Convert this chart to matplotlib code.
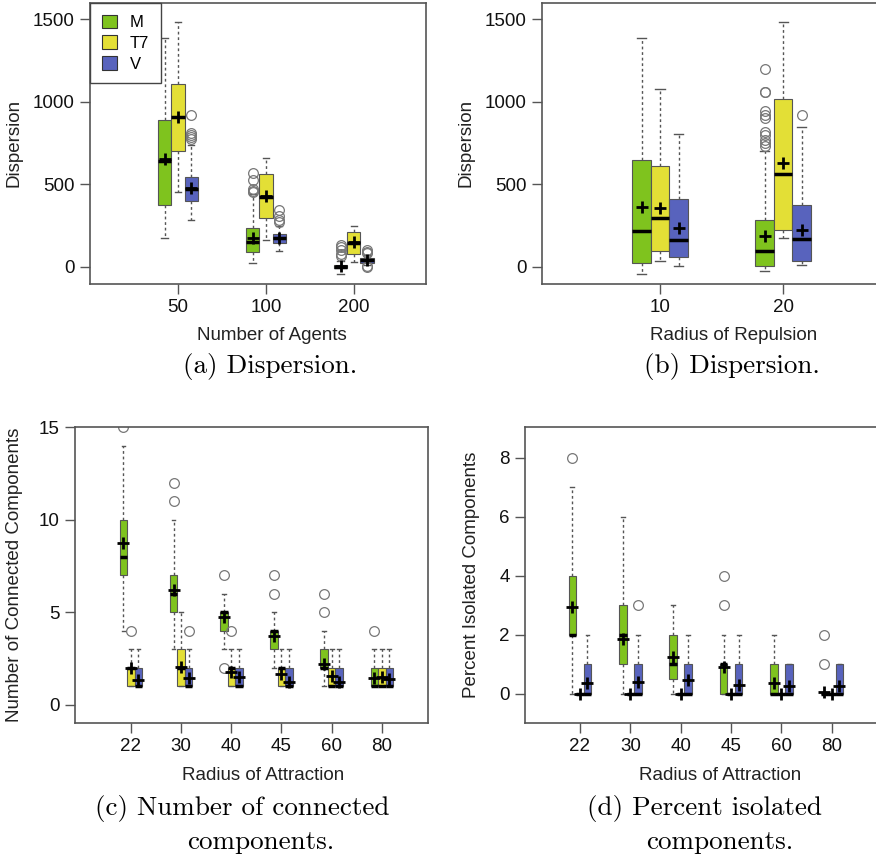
import matplotlib
matplotlib.use("Agg")
import matplotlib.pyplot as plt
from matplotlib.patches import Patch
import numpy as np

plt.rcParams['font.family'] = ['Liberation Sans', 'DejaVu Sans']

# ---------------------- data ----------------------
series = ['M', 'T7', 'V']
colors = ['#7FC31E', '#E3DF36', '#5863BD']

# panel (a): dispersion vs number of agents  (whislo, q1, med, q3, whishi)
a_groups = ['50', '100', '200']
a_M = [(173, 377, 639, 891, 1385), (24, 89, 149, 234, 440), (-40, -5, 0, 12, 34)]
a_T7 = [(454, 700, 911, 1107, 1482), (165, 296, 421, 562, 663), (30, 79, 145, 212, 250)]
a_V = [(286, 397, 472, 548, 736), (95, 145, 173, 200, 246), (14, 24, 40, 54, 75)]
a_M_mean = [653, 173, 4]
a_T7_mean = [907, 427, 149]
a_V_mean = [478, 173, 40]
a_M_fliers = [[], [569, 528, 472, 462, 455], [135, 120, 100, 80, 65]]
a_T7_fliers = [[], [], []]
a_V_fliers = [[921, 812, 800, 790, 778], [347, 310, 286, 270], [100, 92, 85, 5, 0]]

# panel (b): dispersion vs radius of repulsion
b_groups = ['10', '20']
b_M = [(-42, 24, 216, 649, 1385), (-26, 4, 95, 286, 700)]
b_T7 = [(34, 95, 296, 609, 1079), (175, 226, 562, 1018, 1482)]
b_V = [(4, 58, 165, 413, 806), (10, 38, 171, 377, 845)]
b_M_mean = [363, 190]
b_T7_mean = [357, 629]
b_V_mean = [236, 226]
b_M_fliers = [[], [1200, 1062, 1058, 946, 921, 901, 820, 800, 770, 750, 730]]
b_T7_fliers = [[], []]
b_V_fliers = [[], [921]]

# panel (c): number of connected components vs radius of attraction
c_groups = ['22', '30', '40', '45', '60', '80']
c_M = [(4, 7, 8, 10, 14), (3, 5, 6, 7, 10), (3, 4, 5, 5, 6),
       (2, 3, 4, 4, 5), (1, 2, 2, 3, 4), (1, 1, 1, 2, 3)]
c_T7 = [(1, 1, 2, 2, 3), (1, 1, 2, 3, 5), (1, 1, 2, 2, 3),
        (1, 1, 2, 2, 3), (1, 1, 1, 2, 3), (1, 1, 1, 2, 3)]
c_V = [(1, 1, 1, 2, 3), (1, 1, 1, 2, 3), (1, 1, 1, 2, 3),
       (1, 1, 1, 2, 3), (1, 1, 1, 2, 3), (1, 1, 1, 2, 3)]
c_M_mean = [8.73, 6.2, 4.76, 3.73, 2.2, 1.42]
c_T7_mean = [2.0, 2.05, 1.78, 1.64, 1.55, 1.5]
c_V_mean = [1.33, 1.42, 1.5, 1.24, 1.24, 1.37]
c_M_fliers = [[15], [12, 11], [7, 2], [7, 6], [6, 5], [4]]
c_T7_fliers = [[4], [], [4], [], [], []]
c_V_fliers = [[], [4], [], [], [], []]

# panel (d): percent isolated components vs radius of attraction
d_groups = ['22', '30', '40', '45', '60', '80']
d_M = [(0, 2, 2, 4, 7), (0, 1, 2, 3, 6), (0, 0.5, 1, 2, 3),
       (0, 0, 1, 1, 2), (0, 0, 0, 1, 2), (0, 0, 0, 0, 0)]
d_T7 = [(0, 0, 0, 0, 0)] * 6
d_V = [(0, 0, 0, 1, 2), (0, 0, 0, 1, 2), (0, 0, 0, 1, 2),
       (0, 0, 0, 1, 2), (0, 0, 0, 1, 1), (0, 0, 0, 1, 1)]
d_M_mean = [2.95, 1.84, 1.25, 0.91, 0.35, 0.07]
d_T7_mean = [0, 0, 0, 0, 0, 0]
d_V_mean = [0.35, 0.4, 0.48, 0.3, 0.26, 0.26]
d_M_fliers = [[8], [], [], [4, 3], [], [2, 1]]
d_T7_fliers = [[], [], [], [], [], []]
d_V_fliers = [[], [3], [], [], [], []]

W, H = 876, 859
fig = plt.figure(figsize=(W / 100, H / 100), dpi=100)


def px_axes(left, top, right, bottom):
    """ axes rectangle from pixel edges """
    return fig.add_axes([left / W, 1 - bottom / H, (right - left) / W, (bottom - top) / H])


def draw_panel(ax, five, means, fliers, groups, xlim, ylim, yticks):
    offsets = [-0.15, 0.0, 0.15]
    n = len(groups)
    for k in range(3):
        stats = []
        for g in range(n):
            lo, q1, med, q3, hi = five[k][g]
            stats.append(dict(whislo=lo, q1=q1, med=med, q3=q3, whishi=hi,
                              mean=means[k][g], fliers=fliers[k][g]))
        ax.bxp(stats, positions=np.arange(1, n + 1) + offsets[k], widths=0.15,
               capwidths=0.075, patch_artist=True, showmeans=True,
               boxprops=dict(facecolor=colors[k], edgecolor='#555555', linewidth=0.8),
               whiskerprops=dict(color='#555555', linewidth=1.0, linestyle=(0, (2, 2))),
               capprops=dict(color='#555555', linewidth=1.0),
               medianprops=dict(color='black', linewidth=2.5),
               meanprops=dict(marker='+', markersize=8, markeredgewidth=2.0,
                              markeredgecolor='black'),
               flierprops=dict(marker='o', markerfacecolor='none', markeredgecolor='#777777',
                               markersize=7, markeredgewidth=0.9))
    ax.set_xlim(*xlim)
    ax.set_ylim(*ylim)
    ax.set_xticks(np.arange(1, n + 1))
    ax.set_xticklabels(groups)
    ax.set_yticks(yticks)
    ax.tick_params(direction='out', length=7, width=1.0, color='#555555',
                   labelsize=13.5, labelcolor='#111111', pad=4)
    for s in ax.spines.values():
        s.set_color('#555555')
        s.set_linewidth(1.2)


# (a)
ax_a = px_axes(90, 3, 426, 284)
draw_panel(ax_a, [a_M, a_T7, a_V], [a_M_mean, a_T7_mean, a_V_mean],
           [a_M_fliers, a_T7_fliers, a_V_fliers], a_groups,
           (0.0, 3.82), (-103, 1599), [0, 500, 1000, 1500])
handles = [Patch(facecolor=c, edgecolor='#333333', linewidth=0.8) for c in colors]
leg = ax_a.legend(handles, series, loc='upper left', borderaxespad=0, fontsize=12,
                  handlelength=0.9, handleheight=0.9, fancybox=False,
                  framealpha=1, borderpad=0.7, labelspacing=0.3)
leg.get_frame().set_edgecolor('#444444')
leg.get_frame().set_linewidth(1.0)

# (b)
ax_b = px_axes(542, 3, 926, 284)
draw_panel(ax_b, [b_M, b_T7, b_V], [b_M_mean, b_T7_mean, b_V_mean],
           [b_M_fliers, b_T7_fliers, b_V_fliers], b_groups,
           (0.041, 3.16), (-103, 1599), [0, 500, 1000, 1500])

# (c)
ax_c = px_axes(75, 427, 428, 723)
draw_panel(ax_c, [c_M, c_T7, c_V], [c_M_mean, c_T7_mean, c_V_mean],
           [c_M_fliers, c_T7_fliers, c_V_fliers], c_groups,
           (-0.115, 6.92), (-0.99, 15.0), [0, 5, 10, 15])

# (d)
ax_d = px_axes(525, 427, 915, 723)
draw_panel(ax_d, [d_M, d_T7, d_V], [d_M_mean, d_T7_mean, d_V_mean],
           [d_M_fliers, d_T7_fliers, d_V_fliers], d_groups,
           (-0.09, 7.65), (-0.99, 9.04), [0, 2, 4, 6, 8])

# axis titles
lab = dict(fontsize=13.5, color='#222222', ha='center', va='center')
fig.text(14 / W, 1 - 143 / H, 'Dispersion', rotation=90, **lab)
fig.text(466 / W, 1 - 143 / H, 'Dispersion', rotation=90, **lab)
fig.text(15 / W, 1 - 575 / H, 'Number of Connected Components', rotation=90, **lab)
fig.text(472 / W, 1 - 575 / H, 'Percent Isolated Components', rotation=90, **lab)
fig.text(272 / W, 1 - 335 / H, 'Number of Agents', **lab)
fig.text(734 / W, 1 - 335 / H, 'Radius of Repulsion', **lab)
fig.text(263 / W, 1 - 776 / H, 'Radius of Attraction', **lab)
fig.text(720 / W, 1 - 776 / H, 'Radius of Attraction', **lab)

# captions
cap = dict(fontsize=19.5, family='cmr10', color='black', va='center')
fig.text(270 / W, 1 - 367 / H, '(a) Dispersion.', ha='center', **cap)
fig.text(732 / W, 1 - 367 / H, '(b) Dispersion.', ha='center', **cap)
fig.text(95 / W, 1 - 809 / H, '(c) Number of connected', ha='left', **cap)
fig.text(261 / W, 1 - 842 / H, 'components.', ha='center', **cap)
fig.text(587 / W, 1 - 809 / H, '(d) Percent isolated', ha='left', **cap)
fig.text(720 / W, 1 - 842 / H, 'components.', ha='center', **cap)

fig.savefig('out.png', dpi=100)
